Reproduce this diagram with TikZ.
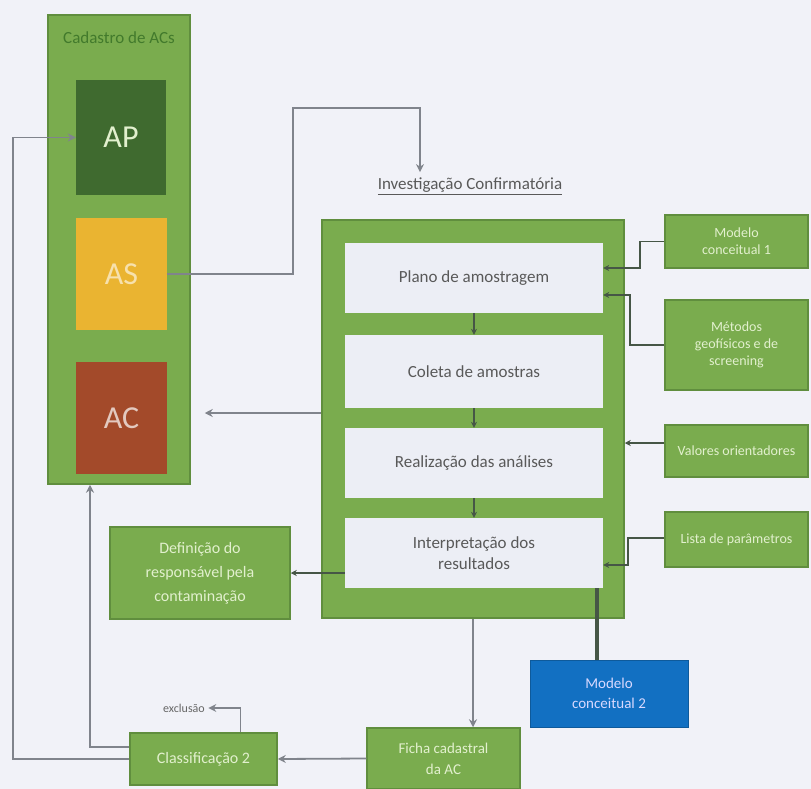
\documentclass[tikz,border=0pt]{standalone}
\usepackage{fontspec}
\setmainfont{Carlito}
\usetikzlibrary{arrows.meta,calc}
\definecolor{bgc}{RGB}{241,242,248}
\definecolor{gfill}{RGB}{122,172,78}
\definecolor{gdark}{RGB}{96,142,62}
\definecolor{gtext}{RGB}{226,240,206}
\definecolor{titc}{RGB}{66,122,44}
\definecolor{apc}{RGB}{63,106,47}
\definecolor{asc}{RGB}{234,180,49}
\definecolor{acc}{RGB}{163,74,42}
\definecolor{innerc}{RGB}{236,238,245}
\definecolor{bluec}{RGB}{18,112,194}
\definecolor{linec}{RGB}{128,132,140}
\definecolor{darkl}{RGB}{70,86,70}
\tikzset{
  gbox/.style={draw=gdark, line width=1.5pt, fill=gfill, text=gtext, align=center, inner sep=2pt, font=\fontsize{14}{17}\selectfont},
  ibox/.style={fill=innerc, draw=none, text=black!65, align=center, inner sep=2pt, font=\fontsize{17}{21}\selectfont},
  catbox/.style={draw=none, align=center, font=\fontsize{32}{36}\selectfont},
  conn/.style={draw=linec, line width=1.8pt, -{Stealth[length=8pt,width=8pt]}},
  dconn/.style={draw=darkl, line width=1.5pt, -{Stealth[length=6pt,width=6pt]}}
}
\begin{document}
\begin{tikzpicture}[x=1pt,y=-1pt]
\fill[bgc] (0,0) rectangle (811,789);
\useasboundingbox (0,0) rectangle (811,789);
% left column
\node[gbox, minimum width=142pt, minimum height=469pt] (col) at (119,249.5) {};
\node[text=titc, font=\fontsize{17}{20}\selectfont] (coltitle) at (119,38) {Cadastro de ACs};
\node[catbox, fill=apc, text=gtext, minimum width=90pt, minimum height=115pt] (ap) at (121,137.5) {AP};
\node[catbox, fill=asc, text=asc!40!white, minimum width=91pt, minimum height=112pt] (as) at (121.5,274) {AS};
\node[catbox, fill=acc, text=acc!30!white, minimum width=91pt, minimum height=112pt] (ac) at (121.5,418) {AC};
% investigation
\node[text=black!65, font=\fontsize{17}{20}\selectfont] (invlabel) at (470,186) {\underline{Investigação Confirmatória}};
\node[gbox, minimum width=302pt, minimum height=398pt] (outer) at (473,419) {};
\node[ibox, minimum width=258pt, minimum height=70pt] (p1) at (474,278) {Plano de amostragem};
\node[ibox, minimum width=258pt, minimum height=73pt] (p2) at (474,371.5) {Coleta de amostras};
\node[ibox, minimum width=258pt, minimum height=70pt] (p3) at (474,463) {Realização das análises};
\node[ibox, minimum width=258pt, minimum height=70pt] (p4) at (474,553) {Interpretação dos\\resultados};
% right boxes
\node[gbox, minimum width=143pt, minimum height=53pt] (r1) at (736.5,241.5) {Modelo\\conceitual 1};
\node[gbox, minimum width=143pt, minimum height=90pt] (r2) at (736.5,345) {Métodos\\geofísicos e de\\screening};
\node[gbox, minimum width=143pt, minimum height=52pt] (r3) at (736.5,451) {Valores orientadores};
\node[gbox, minimum width=143pt, minimum height=55pt] (r4) at (736.5,539.5) {Lista de parâmetros};
% lower boxes
\node[gbox, font=\fontsize{16}{24}\selectfont, minimum width=180pt, minimum height=92pt] (def) at (200,573) {Definição do\\responsável pela\\contaminação};
\node[draw=bluec!80!black, line width=1pt, fill=bluec, text=blue!15!white, align=center, font=\fontsize{15}{20}\selectfont, minimum width=158pt, minimum height=67pt] (mc2) at (609,693.5) {Modelo\\conceitual 2};
\node[gbox, font=\fontsize{16}{19}\selectfont, minimum width=147pt, minimum height=52pt] (cls) at (203.5,759) {Classificação 2};
\node[gbox, font=\fontsize{15}{21}\selectfont, minimum width=153pt, minimum height=61pt] (ficha) at (443.5,758.5) {Ficha cadastral\\da AC};
\node[text=black!60, font=\fontsize{12}{14}\selectfont] (excl) at (184,708) {exclusão};
% connectors
\draw[dconn] (p1) -- (p2);
\draw[dconn] (p2) -- (p3);
\draw[dconn] (p3) -- (p4);
\draw[conn] (as.east) -- (293,274) |- (420,108) -- ([yshift=2pt]invlabel.north -| 420,0);
\draw[conn] (outer.west |- 0,413) -- ([xshift=14pt]col.east |- 0,413);
\draw[dconn] (r1.west) -- (640,241.5) |- (p1.east |- 0,268);
\draw[dconn] (r2.west) -- (630,345) |- (p1.east |- 0,295);
\draw[dconn] ([yshift=8pt]r3.west) -- (outer.east |- 0,443);
\draw[dconn] (r4.west |- 0,538) -- (628,538) |- (p4.east |- 0,565);
\draw[draw=darkl, line width=4pt] (p4.south -| 597,0) -- (mc2.north -| 597,0);
\draw[dconn] (p4.west |- def.east) -- (def.east);
\draw[conn] (outer.south) -- (outer.south |- ficha.north);
\draw[conn] (ficha.west) -- (cls.east);
\draw[conn] (cls.west) -- (13,759) |- (ap.west);
\draw[conn] (cls.west |- 0,747) -- (90,747) -- (col.south -| 90,0);
\draw[conn] ([xshift=37pt]cls.north) |- (excl.east);
\end{tikzpicture}
\end{document}
